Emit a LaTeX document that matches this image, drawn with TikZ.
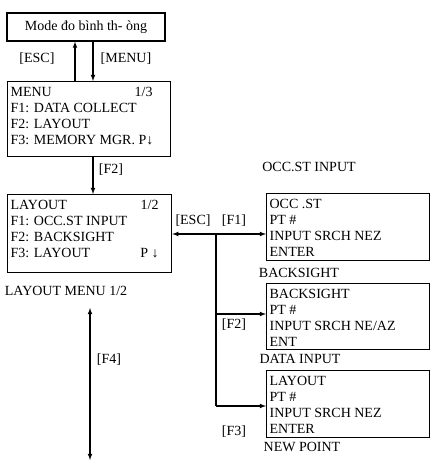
\documentclass[tikz,border=0pt]{standalone}
\usepackage{fontspec}
\setmainfont{Liberation Serif}
\usetikzlibrary{arrows,positioning}
\tikzset{
    scr/.style={draw, line width=1.2pt, inner sep=3pt},
    >=latex
}

\begin{document}
\begin{tikzpicture}[x=1pt,y=-1pt,line width=1.1pt,font=\fontsize{14}{16.3}\selectfont]
            \useasboundingbox (0,0) rectangle (441,466);

            % screens
            \node[scr, minimum width=158pt, minimum height=28pt] (mode) at (86,27) {Mode đo bình th- òng};
            \node[scr, anchor=north west] (menu) at (7,81) {\parbox[c][69pt][t]{157pt}{\strut\makebox[142pt][l]{MENU\hfill 1/3}\\F1: DATA COLLECT\\F2: LAYOUT\\F3: MEMORY MGR. P↓}};
            \node[scr, anchor=north west] (layout) at (7,194) {\parbox[c][72pt][t]{158pt}{\strut\makebox[148pt][l]{LAYOUT\hfill 1/2}\\F1: OCC.ST INPUT\\F2: BACKSIGHT\\\makebox[148pt][l]{F3: LAYOUT\hfill P ↓}}};
            \node[scr, anchor=north west] (occ) at (266,193) {\parbox[c][61pt][t]{157pt}{\strut OCC .ST\\PT \#\\INPUT SRCH NEZ\\ENTER}};
            \node[scr, anchor=north west] (bsight) at (266,283) {\parbox[c][60pt][t]{157pt}{\strut BACKSIGHT\\PT \#\\INPUT SRCH NE/AZ\\ENT}};
            \node[scr, anchor=north west] (lay) at (266,370) {\parbox[c][61pt][t]{157pt}{\strut LAYOUT\\PT \#\\INPUT SRCH NEZ\\ENTER}};

            % titles
            \node[anchor=west] (laymenu) at (1,291) {LAYOUT MENU 1/2};
            \node (occtitle) at (309,167) {OCC.ST INPUT};
            \node (bstitle) at (299,273) {BACKSIGHT};
            \node (dititle) at (300,359) {DATA INPUT};
            \node (nptitle) at (302,447) {NEW POINT};

            % keys
            \node (kesc) at (37,59) {[ESC]};
            \node (kmenu) at (126,59) {[MENU]};
            \node (kftwo) at (111,170) {[F2]};
            \node (kfour) at (109,360) {[F4]};
            \node (kescb) at (193,221) {[ESC]};
            \node (kfone) at (234,221) {[F1]};
            \node (kftwob) at (234,325) {[F2]};
            \node (kfthree) at (234,432) {[F3]};

            % connectors
            \coordinate (escx) at (75,0);
            \coordinate (menux) at (93,0);
            \coordinate (busx) at (216,0);
            \coordinate (rowa) at (0,234);
            \coordinate (rowb) at (0,314);
            \coordinate (rowc) at (0,406);
            \coordinate (fourtop) at (90,308);
            \coordinate (fourbot) at (90,460);

            \draw[->] (escx |- menu.north) -- (escx |- mode.south);
            \draw[->] (menux |- mode.south) -- (menux |- menu.north);
            \draw[->] (menux |- menu.south) -- (menux |- layout.north);
            \draw[<->] (layout.east |- rowa) -- (occ.west |- rowa);
            \draw (busx |- rowa) -- (busx |- rowc);
            \draw[->] (busx |- rowb) -- (bsight.west |- rowb);
            \draw[->] (busx |- rowc) -- (lay.west |- rowc);
            \draw[<->] (fourtop) -- (fourbot);

        \end{tikzpicture}
\end{document}
